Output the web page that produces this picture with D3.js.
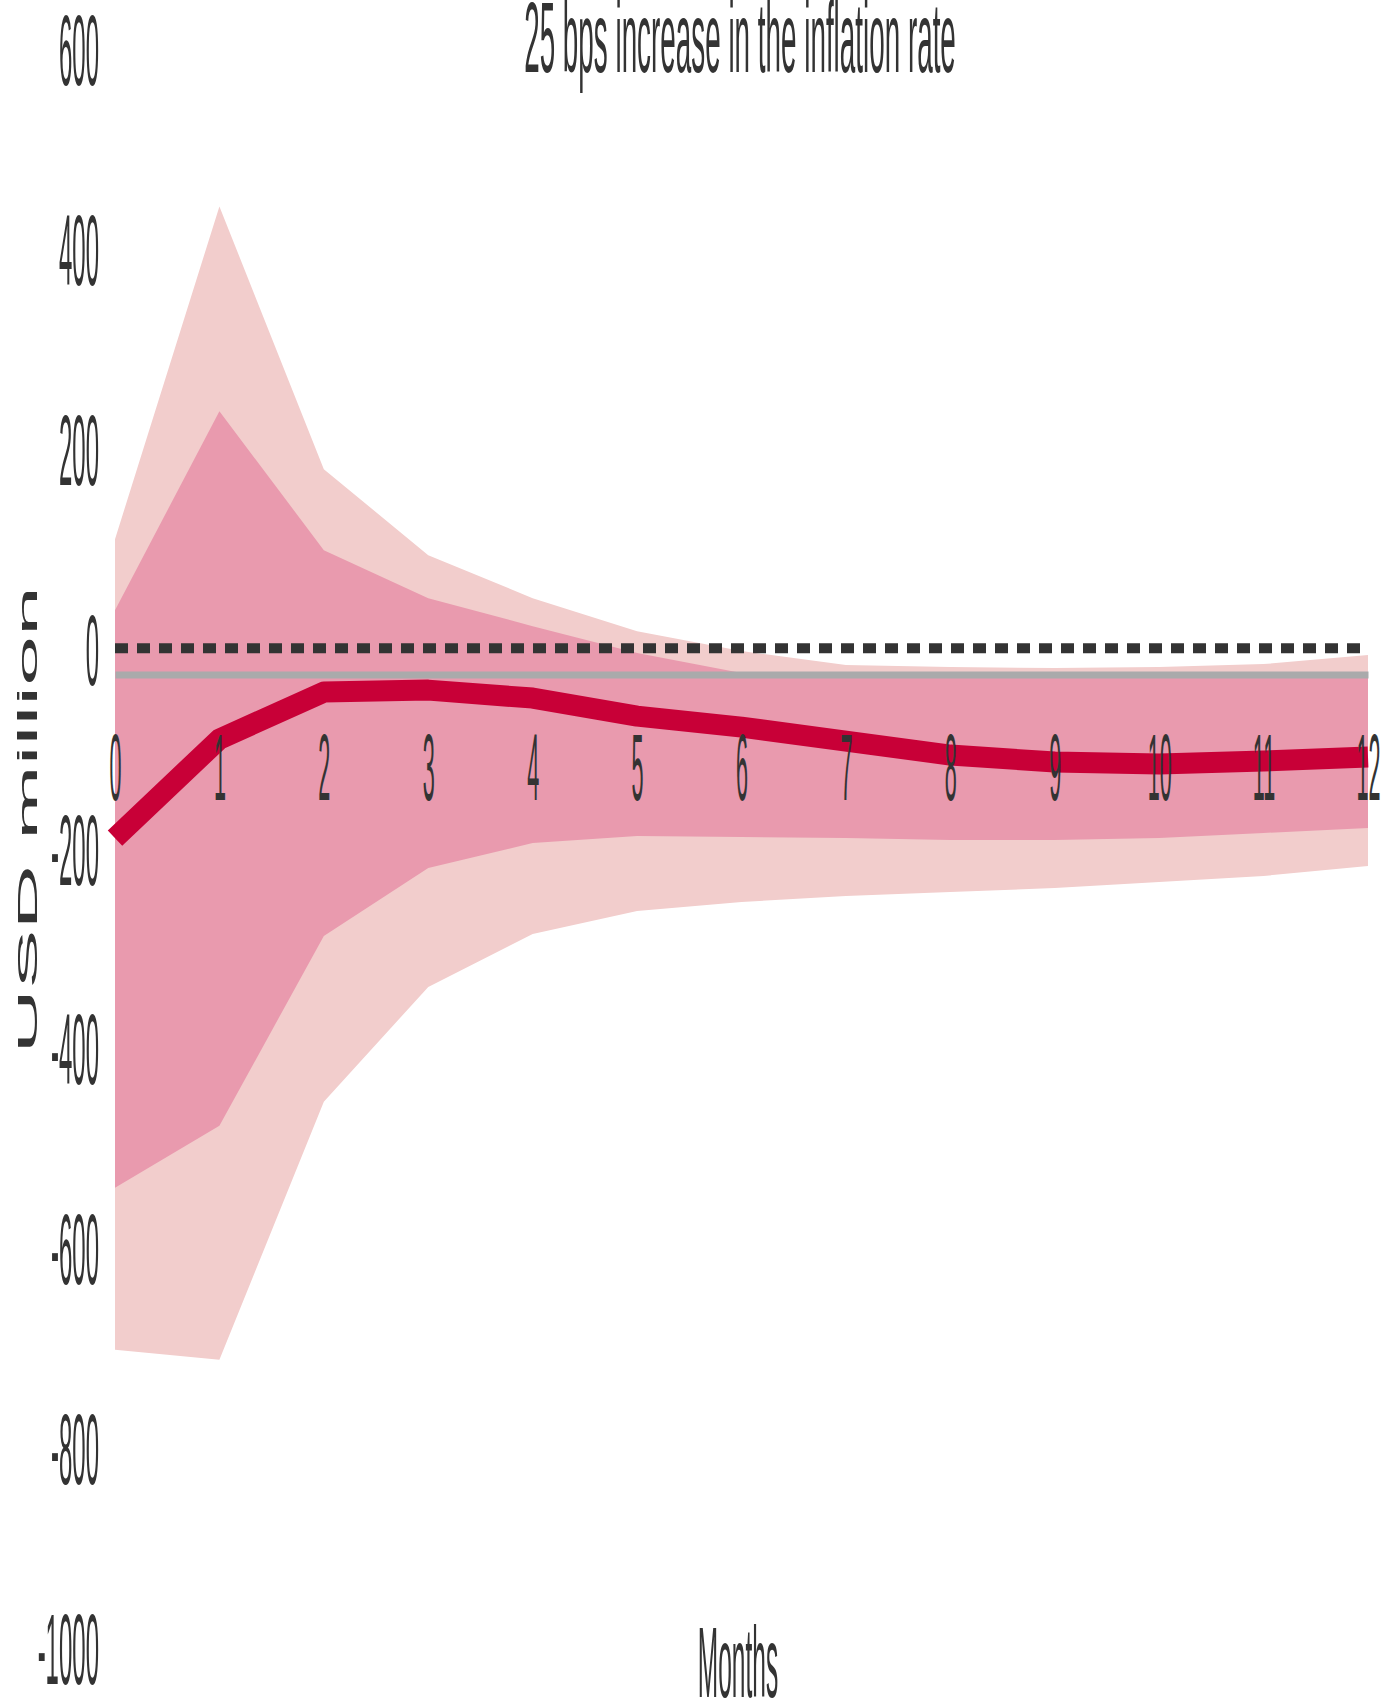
<!DOCTYPE html>
<html>
<head>
<meta charset="utf-8">
<script src="https://cdn.jsdelivr.net/npm/d3@7"></script>
<style>
  html, body { margin: 0; padding: 0; background: #fff; }
  svg { display: block; }
  text { font-family: "Liberation Sans", Arial, sans-serif; fill: #333; }
</style>
</head>
<body>
<div id="chart"></div>
<script>
// ---- data ----
const months = [0, 1, 2, 3, 4, 5, 6, 7, 8, 9, 10, 11, 12];
const median = [-190, -91, -44, -42, -50, -68, -79, -93, -107, -114, -116, -113, -109];
const inner68Upper = [38, 237, 98, 50, 22, -5, -25, -27, -27, -27, -27, -27, -26];
const inner68Lower = [-540, -478, -288, -220, -195, -188, -189, -190, -192, -192, -190, -185, -180];
const outer90Upper = [109, 442, 179, 93, 50, 17, -3, -17, -19, -20, -19, -16, -7];
const outer90Lower = [-702, -712, -454, -339, -286, -263, -254, -248, -244, -240, -234, -228, -218];
const yTicks = [600, 400, 200, 0, -200, -400, -600, -800, -1000];
const xTicks = [0, 1, 2, 3, 4, 5, 6, 7, 8, 9, 10, 11, 12];
const zeroRef = 0;
const titleText = "25 bps increase in the inflation rate";
const xTitle = "Months";
const yTitle = "USD million";

// ---- layout ----
const W = 1395, H = 1703;
const svg = d3.select("#chart").append("svg").attr("width", W).attr("height", H);

const x = d3.scaleLinear().domain([0, 12]).range([115, 1368]);
const y = d3.scaleLinear().domain([-1000, 600]).range([1647.5, 48.5]);

const rows = months.map((m, i) => ({
  m, med: median[i], iu: inner68Upper[i], il: inner68Lower[i], ou: outer90Upper[i], ol: outer90Lower[i]
}));

// outer band
svg.append("path").datum(rows)
  .attr("fill", "#f2cdcc")
  .attr("d", d3.area().x(d => x(d.m)).y0(d => y(d.ol)).y1(d => y(d.ou)));
// inner band
svg.append("path").datum(rows)
  .attr("fill", "#e99aae")
  .attr("d", d3.area().x(d => x(d.m)).y0(d => y(d.il)).y1(d => y(d.iu)));

// x axis (gray line) placed just below zero
const xAxisY = 674.5;
const gx = svg.append("g").attr("transform", `translate(0,${xAxisY})`)
  .call(d3.axisBottom(x).tickValues(xTicks).tickSize(0).tickSizeOuter(0).tickFormat(d3.format("d")));
gx.select(".domain").attr("stroke", "#aaaaab").attr("stroke-width", 7);
gx.selectAll("text").remove();

// dashed zero line
svg.append("path").datum([0, 12])
  .attr("fill", "none").attr("stroke", "#333").attr("stroke-width", 10)
  .attr("stroke-dasharray", "13,9")
  .attr("d", d3.line().x(d => x(d)).y(() => y(zeroRef)));

// median line
svg.append("path").datum(rows)
  .attr("fill", "none").attr("stroke", "#c80037").attr("stroke-width", 21)
  .attr("stroke-linejoin", "round")
  .attr("d", d3.line().x(d => x(d.m)).y(d => y(d.med)));

// x tick labels on top
const gxl = svg.append("g").attr("transform", `translate(0,${xAxisY})`)
  .call(d3.axisBottom(x).tickValues(xTicks).tickSize(0).tickSizeOuter(0).tickFormat(d3.format("d")));
gxl.select(".domain").remove();
gxl.selectAll("text")
  .attr("y", null).attr("dy", null)
  .attr("fill", "#333").style("font-size", "24px")
  .attr("text-anchor", "middle")
  .attr("transform", "translate(0,125.5) scale(0.9,3.95)");

// y axis labels
const gy = svg.append("g").attr("transform", "translate(99,0)")
  .call(d3.axisLeft(y).tickValues(yTicks).tickSize(0).tickFormat(d3.format("d")));
gy.select(".domain").remove();
gy.selectAll("text")
  .text(d => String(d))
  .attr("x", null).attr("dy", null)
  .attr("fill", "#333").style("font-size", "24px")
  .attr("text-anchor", "end")
  .attr("transform", "translate(0,36) scale(1,4.2)");

// title
svg.append("text").text(titleText)
  .attr("text-anchor", "middle").style("font-size", "24px")
  .attr("transform", "translate(740,72) scale(1.16,4.19)");

// x title
svg.append("text").text(xTitle)
  .attr("text-anchor", "middle").style("font-size", "24px")
  .attr("transform", "translate(738,1697) scale(1.02,4.19)");

// y title (rotated)
svg.append("text").text(yTitle)
  .attr("text-anchor", "middle").style("font-size", "24px")
  .attr("transform", "translate(37,820) rotate(-90) scale(3.73,1.16)");
</script>
</body>
</html>
